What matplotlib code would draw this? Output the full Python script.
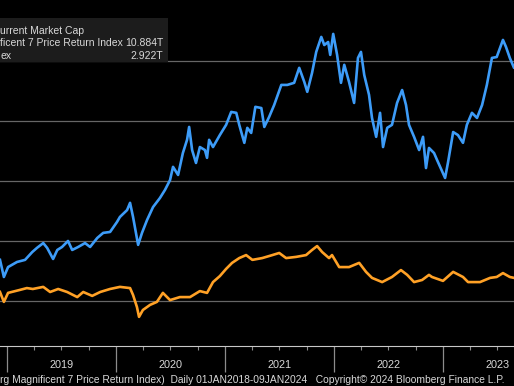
import matplotlib
matplotlib.use("Agg")
import matplotlib.pyplot as plt
import matplotlib.dates as mdates
from matplotlib.patches import Rectangle
import pandas as pd

# 表示フォント
plt.rcParams['font.family'] = ['Liberation Sans', 'DejaVu Sans']

# --- データ (兆ドル) ---
mag7_dates = [
    "2018-12-08", "2018-12-21", "2019-01-04", "2019-02-03", "2019-03-02", "2019-03-26",
    "2019-04-11", "2019-05-02", "2019-05-15", "2019-06-04", "2019-06-18", "2019-07-04",
    "2019-07-24", "2019-08-07", "2019-08-27", "2019-09-19", "2019-10-06", "2019-10-30",
    "2019-11-19", "2019-12-12", "2020-01-04", "2020-01-14", "2020-02-07", "2020-02-17",
    "2020-02-27", "2020-03-15", "2020-03-28", "2020-04-14", "2020-05-04", "2020-05-27",
    "2020-06-13", "2020-06-30", "2020-07-10", "2020-07-27", "2020-08-12", "2020-08-26",
    "2020-09-02", "2020-09-12", "2020-09-25", "2020-10-08", "2020-10-25", "2020-11-01",
    "2020-11-08", "2020-11-21", "2020-12-14", "2021-01-04", "2021-01-21", "2021-02-07",
    "2021-02-17", "2021-03-06", "2021-03-16", "2021-03-29", "2021-04-12", "2021-05-02",
    "2021-05-12", "2021-05-28", "2021-06-14", "2021-07-08", "2021-07-28", "2021-08-20",
    "2021-09-06", "2021-09-23", "2021-10-03", "2021-10-19", "2021-11-02", "2021-11-19",
    "2021-11-29", "2021-12-12", "2021-12-19", "2021-12-29", "2022-01-11", "2022-01-24",
    "2022-02-04", "2022-02-20", "2022-03-09", "2022-03-22", "2022-04-01", "2022-04-12",
    "2022-04-28", "2022-05-08", "2022-05-22", "2022-06-04", "2022-06-14", "2022-06-28",
    "2022-07-14", "2022-07-31", "2022-08-17", "2022-08-30", "2022-09-09", "2022-09-26",
    "2022-10-13", "2022-10-26", "2022-11-05", "2022-11-15", "2022-12-02", "2022-12-12",
    "2023-01-08", "2023-01-18", "2023-02-04", "2023-02-20", "2023-03-09", "2023-03-22",
    "2023-04-08", "2023-04-25", "2023-05-12", "2023-05-28", "2023-06-14", "2023-06-30",
    "2023-07-21", "2023-07-31", "2023-08-13", "2023-08-27", "2024-01-09",
]
mag7_vals = [
    3.37, 2.80, 3.13, 3.30, 3.37, 3.63,
    3.77, 3.93, 3.77, 3.40, 3.70, 3.80,
    4.00, 3.70, 3.80, 3.93, 3.80, 4.10,
    4.27, 4.30, 4.63, 4.80, 5.03, 5.27,
    4.80, 3.87, 4.27, 4.70, 5.13, 5.43,
    5.70, 6.03, 6.47, 6.20, 6.93, 7.37,
    7.80, 7.03, 6.60, 7.13, 7.03, 6.77,
    7.37, 7.13, 7.53, 7.87, 8.30, 8.27,
    7.87, 7.27, 7.77, 7.60, 8.47, 8.43,
    7.80, 8.13, 8.53, 9.20, 9.20, 9.27,
    9.77, 9.30, 8.97, 9.60, 10.30, 10.80,
    10.53, 10.63, 10.20, 10.90, 10.20, 9.27,
    9.87, 9.30, 8.60, 10.10, 10.30, 9.53,
    8.87, 8.10, 7.47, 8.27, 7.13, 7.77,
    7.87, 8.60, 9.03, 8.53, 7.87, 7.47,
    7.03, 7.47, 6.43, 7.10, 6.93, 6.70,
    6.10, 6.63, 7.63, 7.53, 7.27, 7.87,
    8.27, 8.10, 8.53, 9.20, 10.10, 10.13,
    10.70, 10.47, 10.10, 9.77, 10.884,
]

other_dates = [
    "2018-12-08", "2018-12-21", "2019-01-04", "2019-02-13", "2019-03-08", "2019-03-28",
    "2019-05-02", "2019-05-25", "2019-06-21", "2019-07-21", "2019-08-24", "2019-09-13",
    "2019-10-13", "2019-11-09", "2019-12-12", "2020-01-14", "2020-02-17", "2020-02-27",
    "2020-03-11", "2020-03-18", "2020-03-31", "2020-04-24", "2020-05-17", "2020-06-06",
    "2020-06-30", "2020-08-02", "2020-09-05", "2020-10-08", "2020-11-01", "2020-11-21",
    "2020-12-14", "2021-01-04", "2021-01-24", "2021-02-17", "2021-03-12", "2021-04-02",
    "2021-05-05", "2021-06-08", "2021-07-01", "2021-07-24", "2021-08-27", "2021-09-29",
    "2021-10-19", "2021-11-05", "2021-11-22", "2021-12-15", "2021-12-25", "2022-01-18",
    "2022-02-20", "2022-03-26", "2022-04-18", "2022-05-08", "2022-06-11", "2022-07-14",
    "2022-08-13", "2022-09-03", "2022-09-26", "2022-10-23", "2022-11-15", "2022-11-25",
    "2023-01-01", "2023-02-04", "2023-03-09", "2023-03-26", "2023-05-05", "2023-06-08",
    "2023-06-30", "2023-07-21", "2023-08-13", "2023-08-27", "2024-01-09",
]
other_vals = [
    2.30, 1.97, 2.27, 2.37, 2.43, 2.40,
    2.47, 2.30, 2.40, 2.30, 2.13, 2.30,
    2.17, 2.30, 2.40, 2.47, 2.43, 2.20,
    1.80, 1.47, 1.70, 1.87, 1.97, 2.27,
    2.03, 2.13, 2.13, 2.33, 2.27, 2.63,
    2.83, 3.07, 3.27, 3.43, 3.53, 3.37,
    3.43, 3.53, 3.60, 3.43, 3.47, 3.53,
    3.70, 3.83, 3.63, 3.43, 3.53, 3.13,
    3.13, 3.27, 2.97, 2.77, 2.63, 2.80,
    3.03, 2.87, 2.63, 2.70, 2.87, 2.80,
    2.67, 2.97, 2.80, 2.63, 2.63, 2.77,
    2.80, 2.93, 2.80, 2.77, 2.922,
]

years = [2019, 2020, 2021, 2022, 2023]
grid_levels = [2, 4, 6, 8, 10]

# 凡例・フッターの文字列（画像で見えている部分）
legend_rows = ["urrent Market Cap", "ficent 7 Price Return Index", "ex"]
legend_values = ["", "10.884T", "2.922T"]
footer = ("rg Magnificent 7 Price Return Index)  Daily 01JAN2018-09JAN2024"
          "   Copyright\u00a9 2024 Bloomberg Finance L.P.")

BG = 'black'
BLUE = '#3d9cf8'
ORANGE = '#ffa126'
TXT = '#d8d8d8'
FS = 7.35

W, H = 514, 386
fig = plt.figure(figsize=(W / 100, H / 100), dpi=100, facecolor=BG)
ax = fig.add_axes([0, 40 / H, 1, 346 / H], facecolor=BG)

for g in grid_levels:
    ax.axhline(g, color='#666666', lw=0.9, zorder=1)

ax.plot(pd.to_datetime(mag7_dates), mag7_vals, color=BLUE, lw=1.9, zorder=3)
ax.plot(pd.to_datetime(other_dates), other_vals, color=ORANGE, lw=1.9, zorder=3)

ax.set_xlim(pd.Timestamp("2018-12-08"), pd.Timestamp("2023-08-27"))
ax.set_ylim(0.5, 12.03)

# 軸の見た目
for s in ['top', 'left', 'right']:
    ax.spines[s].set_visible(False)
ax.spines['bottom'].set_color('#c8c8c8')
ax.spines['bottom'].set_linewidth(0.8)
ax.set_yticks([])

ax.xaxis.set_major_locator(mdates.YearLocator())
ax.xaxis.set_minor_locator(mdates.MonthLocator(bymonth=[4, 7, 10]))
ax.xaxis.set_major_formatter(plt.NullFormatter())
ax.tick_params(axis='x', which='major', length=19, width=0.9, color='#8c8c8c', direction='out')
ax.tick_params(axis='x', which='minor', length=3, width=0.8, color='#8c8c8c', direction='out')

# 年ラベル（年の中央）
for y in years:
    ax.text(pd.Timestamp(f"{y}-07-02"), -0.055, str(y), transform=ax.get_xaxis_transform(),
            ha='center', va='center', color=TXT, fontsize=7.8, clip_on=False)

# 凡例ボックス
fig.add_artist(Rectangle((0, 1 - 62 / H), 168 / W, 44 / H, transform=fig.transFigure,
                         facecolor='#1c1c1c', edgecolor='none', zorder=4))
for i, (label, val) in enumerate(zip(legend_rows, legend_values)):
    ypix = 31 + 12.5 * i
    fig.text(0.5 / W, 1 - ypix / H, label, ha='left', va='center',
             color=TXT, fontsize=7.5, zorder=5)
    if val:
        fig.text(163 / W, 1 - ypix / H, val, ha='right', va='center',
                 color=TXT, fontsize=7.5, zorder=5)

# フッター
fig.text(0.5 / W, 1 - 380 / H, footer, ha='left', va='center', color=TXT, fontsize=FS)

plt.savefig('out.png', dpi=100, facecolor=BG)
